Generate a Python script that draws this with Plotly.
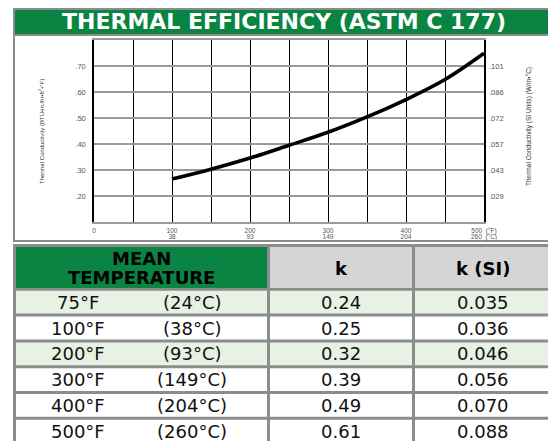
import plotly.graph_objects as go

# ---------------- data ----------------
curve_temp_f = [100, 150, 200, 250, 300, 350, 400, 450, 500]
curve_k = [0.265, 0.303, 0.346, 0.395, 0.445, 0.504, 0.571, 0.648, 0.749]

x_tick_vals = [0, 100, 200, 300, 400, 500]
x_tick_text_f = ['0', '100', '200', '300', '400', '500  (°F)']
x2_tick_vals = [100, 200, 300, 400, 500]
x2_tick_text_c = ['38', '93', '149', '204', '260  (°C)']

y_tick_vals = [0.2, 0.3, 0.4, 0.5, 0.6, 0.7]
y_tick_text = ['.20', '.30', '.40', '.50', '.60', '.70']
y2_tick_text = ['.029', '.043', '.057', '.072', '.086', '.101']

header_lines = ['MEAN', 'TEMPERATURE']
header_labels = ['k', 'k (SI)']
temp_f_labels = ['75°F', '100°F', '200°F', '300°F', '400°F', '500°F']
temp_c_labels = ['(24°C)', '(38°C)', '(93°C)', '(149°C)', '(204°C)', '(260°C)']
k_values = ['0.24', '0.25', '0.32', '0.39', '0.49', '0.61']
k_si_values = ['0.035', '0.036', '0.046', '0.056', '0.070', '0.088']

title_text = 'THERMAL EFFICIENCY (ASTM C 177)'
left_title = 'Thermal Conductivity (BTU•in./hr•ft<sup>2</sup>•°F)'
right_title = 'Thermal Conductivity (SI Units) (W/m•°C)'

# ---------------- styling ----------------
# the captured page is squeezed horizontally (about 548/563), so the figure is
# laid out 563 px wide while positions are expressed in final-picture pixels
W, H = 563, 441
REF_W = 548
GREEN = '#0a8442'
GREY_LINE = '#8c8c8c'
HEADER_GREY = '#d5d5d5'
ROW_GREEN = '#e7f1e4'
FONT = 'DejaVu Sans'


def X(p):
    return p / REF_W


def Y(p):
    return 1 - p / H


fig = go.Figure()
fig.add_trace(go.Scatter(
    x=curve_temp_f, y=curve_k, mode='lines',
    line=dict(color='black', width=3.6, shape='spline'),
    hoverinfo='skip', showlegend=False))
# carriers for the secondary (SI / °C) axes
fig.add_trace(go.Scatter(
    x=curve_temp_f, y=curve_k, xaxis='x2', yaxis='y2', mode='lines',
    line=dict(color='rgba(0,0,0,0)', width=0),
    hoverinfo='skip', showlegend=False))

R = 550
shapes = []
shapes.append(dict(type='rect', xref='paper', yref='paper', layer='below',
                   x0=X(12), x1=X(R), y0=Y(9), y1=Y(35),
                   fillcolor=GREEN, line=dict(color=GREY_LINE, width=2)))
shapes.append(dict(type='rect', xref='paper', yref='paper', layer='below',
                   x0=X(12), x1=X(R), y0=Y(35), y1=Y(241),
                   fillcolor='white', line=dict(color=GREY_LINE, width=2)))

shapes.append(dict(type='rect', xref='paper', yref='paper', layer='below',
                   x0=X(11), x1=X(R), y0=Y(244), y1=Y(442),
                   fillcolor=GREY_LINE, line=dict(width=0)))
cols = [(14, 265), (268, 410), (413, R)]
header_fills = [GREEN, HEADER_GREY, HEADER_GREY]
hdr_top, hdr_bot = 247, 288
for (c0, c1), f in zip(cols, header_fills):
    shapes.append(dict(type='rect', xref='paper', yref='paper', layer='below',
                       x0=X(c0), x1=X(c1), y0=Y(hdr_top), y1=Y(hdr_bot),
                       fillcolor=f, line=dict(width=0)))
row_h = 25.8
row_top0 = 290.8
row_fills = [ROW_GREEN, 'white', ROW_GREEN, 'white', 'white', 'white']
row_centers = []
for i, rf in enumerate(row_fills):
    t = row_top0 + i * row_h
    b = t + row_h - 3
    row_centers.append((t + b) / 2)
    for (c0, c1) in cols:
        shapes.append(dict(type='rect', xref='paper', yref='paper', layer='below',
                           x0=X(c0), x1=X(c1), y0=Y(t), y1=Y(min(b, 442)),
                           fillcolor=rf, line=dict(width=0)))

annotations = []
annotations.append(dict(text=title_text, x=X(282), y=Y(22), xref='paper', yref='paper',
                        showarrow=False, xanchor='center', yanchor='middle',
                        font=dict(family=FONT, size=22, color='white', weight='bold')))
annotations.append(dict(text=left_title, x=X(39), y=Y(132), xref='paper', yref='paper',
                        showarrow=False, textangle=-90, xanchor='center', yanchor='middle',
                        font=dict(family='Liberation Sans Narrow, Liberation Sans', size=6, color='#333')))
annotations.append(dict(text=right_title, x=X(527), y=Y(127), xref='paper', yref='paper',
                        showarrow=False, textangle=-90, xanchor='center', yanchor='middle',
                        font=dict(family='Liberation Sans Narrow, Liberation Sans', size=6.5, color='#333')))

hdr_font = dict(family=FONT, size=18, color='black', weight='bold')
for line, yy in zip(header_lines, [258, 277]):
    annotations.append(dict(text=line, x=X(139.5), y=Y(yy), xref='paper', yref='paper',
                            showarrow=False, xanchor='center', yanchor='middle', font=hdr_font))
for lab, hx in zip(header_labels, [339, 481]):
    annotations.append(dict(text=lab, x=X(hx), y=Y(268), xref='paper', yref='paper',
                            showarrow=False, xanchor='center', yanchor='middle', font=hdr_font))
body_font = dict(family=FONT, size=18, color='#111')
for i, yc in enumerate(row_centers):
    for txt, cx in [(temp_f_labels[i], 76), (temp_c_labels[i], 190),
                    (k_values[i], 339), (k_si_values[i], 481)]:
        annotations.append(dict(text=txt, x=X(cx), y=Y(yc), xref='paper', yref='paper',
                                showarrow=False, xanchor='center', yanchor='middle',
                                font=body_font))

tick_font = dict(family='Liberation Sans', size=7.5, color='#555')
xtick_font = dict(family='Liberation Sans', size=6.5, color='#555')
x_domain = [X(92), X(482)]
y_domain = [Y(222), Y(40)]
fig.update_layout(
    width=W, height=H,
    margin=dict(l=0, r=0, t=0, b=0),
    paper_bgcolor='white', plot_bgcolor='rgba(0,0,0,0)',
    showlegend=False,
    shapes=shapes, annotations=annotations,
    xaxis=dict(domain=x_domain, range=[0, 500],
               tickvals=x_tick_vals, ticktext=x_tick_text_f, ticks='',
               tickfont=xtick_font,
               showgrid=True, gridcolor='black', gridwidth=1.3,
               minor=dict(tick0=0, dtick=50, showgrid=True, gridcolor='black',
                          gridwidth=1.3, ticks=''),
               showline=True, linecolor='#9a9a9a', linewidth=2, mirror=True,
               zeroline=False, fixedrange=True, ticklabelstandoff=1),
    xaxis2=dict(overlaying='x', anchor='y', side='bottom', range=[0, 500],
                tickvals=x2_tick_vals, ticktext=x2_tick_text_c, ticks='',
                tickfont=xtick_font, showgrid=False, showline=False,
                zeroline=False, fixedrange=True, ticklabelstandoff=9),
    yaxis=dict(domain=y_domain, range=[0.1, 0.8],
               tickvals=y_tick_vals, ticktext=y_tick_text, ticks='',
               tickfont=tick_font,
               showgrid=True, gridcolor='#9a9a9a', gridwidth=2,
               showline=True, linecolor='black', linewidth=1.5, mirror=True,
               zeroline=False, fixedrange=True, ticklabelstandoff=5),
    yaxis2=dict(overlaying='y', side='right', anchor='x', range=[0.1, 0.8],
                tickvals=y_tick_vals, ticktext=y2_tick_text, ticks='',
                tickfont=tick_font, showgrid=False, showline=False,
                zeroline=False, fixedrange=True, ticklabelstandoff=4),
)

fig.write_html('out.html', config={'displayModeBar': False},
               post_script="document.body.style.margin='0';")
